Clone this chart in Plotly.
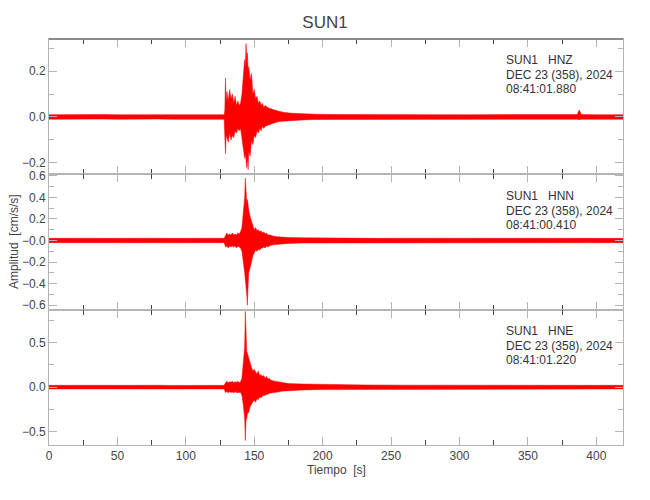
import plotly.graph_objects as go
from plotly.subplots import make_subplots

# ---------------- data (envelope of each trace) ----------------
station = "SUN1"
date_text = "DEC 23 (358), 2024"

hnz_t = [0, 10, 20, 30, 40, 50, 60, 70, 80, 90, 100, 110, 120, 128, 128.5, 129, 129.5, 130, 131, 132, 133, 134,
         135, 136, 137, 138, 139, 140, 141, 142, 143, 143.5, 144, 144.5, 145, 145.5, 146, 147, 148, 149,
         150, 151, 152, 153, 154, 155, 156, 157, 158, 160, 162, 165, 168, 172, 178, 185, 195, 210, 230,
         250, 270, 290, 310, 330, 350, 370, 386, 387.5, 389, 400, 410, 420]
hnz_up = [0.010, 0.011, 0.009, 0.010, 0.011, 0.010, 0.009, 0.011, 0.010, 0.010, 0.011, 0.009, 0.010, 0.010, 0.03,
          0.17, 0.06, 0.11, 0.07, 0.12, 0.08, 0.10, 0.06, 0.09, 0.05, 0.07, 0.05, 0.06, 0.10, 0.18, 0.25,
          0.22, 0.32, 0.26, 0.28, 0.20, 0.22, 0.16, 0.19, 0.10, 0.12, 0.08, 0.09, 0.06, 0.07, 0.05, 0.06,
          0.04, 0.05, 0.04, 0.035, 0.03, 0.025, 0.02, 0.016, 0.014, 0.012, 0.011, 0.010, 0.010, 0.011,
          0.010, 0.010, 0.011, 0.010, 0.011, 0.011, 0.03, 0.011, 0.010, 0.011, 0.010]
hnz_lo = [-0.010, -0.009, -0.011, -0.010, -0.009, -0.010, -0.011, -0.010, -0.009, -0.010, -0.010, -0.011, -0.010,
          -0.010, -0.03, -0.16, -0.08, -0.09, -0.11, -0.07, -0.10, -0.08, -0.09, -0.06, -0.07, -0.05, -0.06,
          -0.05, -0.09, -0.14, -0.18, -0.16, -0.20, -0.22, -0.18, -0.23, -0.15, -0.17, -0.10, -0.12, -0.08,
          -0.09, -0.06, -0.07, -0.05, -0.06, -0.04, -0.05, -0.04, -0.035, -0.03, -0.025, -0.02, -0.018,
          -0.015, -0.013, -0.011, -0.010, -0.010, -0.011, -0.010, -0.010, -0.010, -0.009, -0.010, -0.010,
          -0.010, -0.012, -0.010, -0.010, -0.009, -0.010]

hnn_t = [0, 10, 20, 30, 40, 50, 60, 70, 80, 90, 100, 110, 120, 128, 129, 130, 131, 132, 133, 134, 135, 136,
         137, 138, 139, 140, 141, 142, 143, 143.5, 144, 144.5, 145, 145.5, 146, 147, 148, 149, 150, 151, 152,
         153, 154, 155, 156, 157, 158, 159, 160, 162, 164, 167, 170, 175, 185, 200, 220, 240, 260, 280, 300,
         320, 340, 360, 380, 400, 420]
hnn_up = [0.02, 0.022, 0.019, 0.021, 0.02, 0.022, 0.02, 0.019, 0.021, 0.02, 0.022, 0.02, 0.021, 0.02, 0.05,
          0.07, 0.05, 0.06, 0.05, 0.07, 0.05, 0.06, 0.05, 0.07, 0.06, 0.08, 0.12, 0.25, 0.40, 0.58, 0.45,
          0.35, 0.38, 0.30, 0.28, 0.22, 0.18, 0.12, 0.10, 0.12, 0.09, 0.10, 0.08, 0.09, 0.07, 0.08, 0.06,
          0.07, 0.05, 0.05, 0.04, 0.035, 0.03, 0.028, 0.025, 0.022, 0.021, 0.02, 0.021, 0.02, 0.022, 0.02,
          0.021, 0.02, 0.021, 0.02, 0.02]
hnn_lo = [-0.02, -0.021, -0.02, -0.022, -0.019, -0.02, -0.021, -0.02, -0.022, -0.02, -0.019, -0.021, -0.02,
          -0.02, -0.06, -0.05, -0.07, -0.05, -0.06, -0.05, -0.06, -0.05, -0.07, -0.05, -0.06, -0.07, -0.10,
          -0.20, -0.30, -0.35, -0.40, -0.50, -0.60, -0.42, -0.30, -0.26, -0.20, -0.14, -0.12, -0.09, -0.10,
          -0.08, -0.09, -0.07, -0.07, -0.06, -0.07, -0.05, -0.06, -0.045, -0.04, -0.035, -0.03, -0.027,
          -0.024, -0.021, -0.02, -0.021, -0.02, -0.022, -0.02, -0.021, -0.02, -0.02, -0.021, -0.02, -0.02]

hne_t = [0, 10, 20, 30, 40, 50, 60, 70, 80, 90, 100, 110, 120, 128, 129, 130, 131, 132, 133, 134, 135, 136,
         137, 138, 139, 140, 141, 142, 143, 143.5, 144, 144.5, 145, 146, 147, 148, 149, 150, 151, 152, 153,
         154, 155, 156, 157, 158, 159, 160, 161, 162, 164, 167, 170, 175, 185, 200, 230, 260, 290, 320, 350,
         380, 400, 420]
hne_up = [0.02, 0.022, 0.02, 0.019, 0.021, 0.02, 0.022, 0.02, 0.021, 0.019, 0.02, 0.022, 0.02, 0.02, 0.05,
          0.065, 0.05, 0.06, 0.055, 0.065, 0.05, 0.06, 0.055, 0.065, 0.05, 0.06, 0.10, 0.25, 0.45, 0.85,
          0.50, 0.40, 0.38, 0.32, 0.25, 0.22, 0.18, 0.20, 0.17, 0.15, 0.18, 0.13, 0.14, 0.12, 0.13, 0.10,
          0.12, 0.09, 0.10, 0.08, 0.07, 0.06, 0.05, 0.04, 0.035, 0.03, 0.025, 0.022, 0.021, 0.022, 0.02,
          0.021, 0.02, 0.02]
hne_lo = [-0.02, -0.02, -0.021, -0.022, -0.02, -0.019, -0.02, -0.021, -0.02, -0.022, -0.02, -0.02, -0.021,
          -0.02, -0.06, -0.05, -0.065, -0.05, -0.06, -0.055, -0.065, -0.05, -0.06, -0.055, -0.06, -0.06,
          -0.09, -0.20, -0.35, -0.60, -0.38, -0.35, -0.30, -0.28, -0.22, -0.19, -0.16, -0.15, -0.17, -0.13,
          -0.14, -0.11, -0.12, -0.10, -0.10, -0.09, -0.08, -0.08, -0.07, -0.07, -0.06, -0.055, -0.045, -0.04,
          -0.032, -0.028, -0.025, -0.022, -0.021, -0.02, -0.021, -0.02, -0.02, -0.02]

channels = ["HNZ", "HNN", "HNE"]
start_times = ["08:41:01.880", "08:41:00.410", "08:41:01.220"]
y_ranges = [[-0.25, 0.34], [-0.642, 0.614], [-0.65, 0.87]]
y_ticks = [[-0.2, 0.0, 0.2], [-0.6, -0.4, -0.2, 0.0, 0.2, 0.4, 0.6], [-0.5, 0.0, 0.5]]
y_ticktext = [["−0.2", "0.0", "0.2"], ["−0.6", "−0.4", "−0.2", "−0.0", "0.2", "0.4", "0.6"], ["−0.5", "0.0", "0.5"]]
y_minor = [0.1, 0.1, 0.25]
x_ticks = [0, 50, 100, 150, 200, 250, 300, 350, 400]

traces = [(hnz_t, hnz_up, hnz_lo), (hnn_t, hnn_up, hnn_lo), (hne_t, hne_up, hne_lo)]

# ---------------- figure ----------------
FONT = "Liberation Sans, Arial, sans-serif"
AX = "#b4b4b4"

fig = make_subplots(rows=3, cols=1, shared_xaxes=True, vertical_spacing=0)

for i, (t, up, lo) in enumerate(traces):
    fig.add_trace(go.Scatter(
        x=list(t) + list(t)[::-1], y=list(up) + list(lo)[::-1],
        mode="lines", fill="toself", fillcolor="#ff0000",
        line=dict(color="#ff0000", width=0.5), hoverinfo="skip", showlegend=False),
        row=i + 1, col=1)

for i in range(3):
    r = i + 1
    fig.update_yaxes(row=r, col=1, range=y_ranges[i], tickvals=y_ticks[i], ticktext=y_ticktext[i],
                     showline=True, linecolor=AX, linewidth=1, mirror="allticks",
                     ticks="inside", ticklen=8, tickwidth=1, tickcolor=AX,
                     minor=dict(dtick=y_minor[i], tick0=0, ticks="inside", ticklen=5, tickcolor=AX),
                     showgrid=False, zeroline=False, automargin=False,
                     tickfont=dict(family=FONT, size=12, color="#444"))
    fig.update_xaxes(row=r, col=1, range=[0, 419.5], tickvals=x_ticks,
                     showline=True, linecolor=AX, linewidth=1, mirror="allticks",
                     ticks="inside", ticklen=8, tickwidth=1, tickcolor=AX,
                     minor=dict(dtick=25, tick0=0, ticks="inside", ticklen=5, tickcolor="#444"),
                     showgrid=False, zeroline=False, automargin=False,
                     showticklabels=(r == 3),
                     tickfont=dict(family=FONT, size=12, color="#444"))

# station / date annotations inside each panel
panel_top = [39, 175, 310]
for i in range(3):
    lines = [f"{station}   {channels[i]}", date_text, start_times[i]]
    for k, txt in enumerate(lines):
        ypx = panel_top[i] + 21 + 14.7 * k
        fig.add_annotation(x=(504 - 49) / 574, y=(445 - ypx) / 406, xref="paper", yref="paper",
                           text=txt, showarrow=False, xanchor="left", yanchor="middle",
                           font=dict(family=FONT, size=12, color="#333"))

fig.add_annotation(x=0.5, y=(445 - 470) / 406, xref="paper", yref="paper", text="Tiempo  [s]",
                   showarrow=False, xanchor="center", yanchor="middle",
                   font=dict(family=FONT, size=12, color="#444"))
fig.add_annotation(x=(14 - 49) / 574, y=(445 - 242) / 406, xref="paper", yref="paper",
                   text="Amplitud  [cm/s/s]", textangle=-90, showarrow=False,
                   xanchor="center", yanchor="middle",
                   font=dict(family=FONT, size=12, color="#444"))

# darker top border
fig.add_shape(type="line", xref="paper", yref="paper", x0=0, x1=1, y0=1, y1=1,
              line=dict(color="#888888", width=2))

fig.update_layout(
    width=650, height=500,
    margin=dict(l=49, r=27, t=39, b=55, autoexpand=False),
    paper_bgcolor="white", plot_bgcolor="white",
    title=dict(text=station, x=0.5, xanchor="center", y=1 - 22 / 500, yanchor="middle",
               font=dict(family=FONT, size=17, color="#444")),
    showlegend=False,
)

fig.write_html("out.html", config={"displayModeBar": False},
               post_script="document.body.style.margin='0';document.body.style.padding='0';")
